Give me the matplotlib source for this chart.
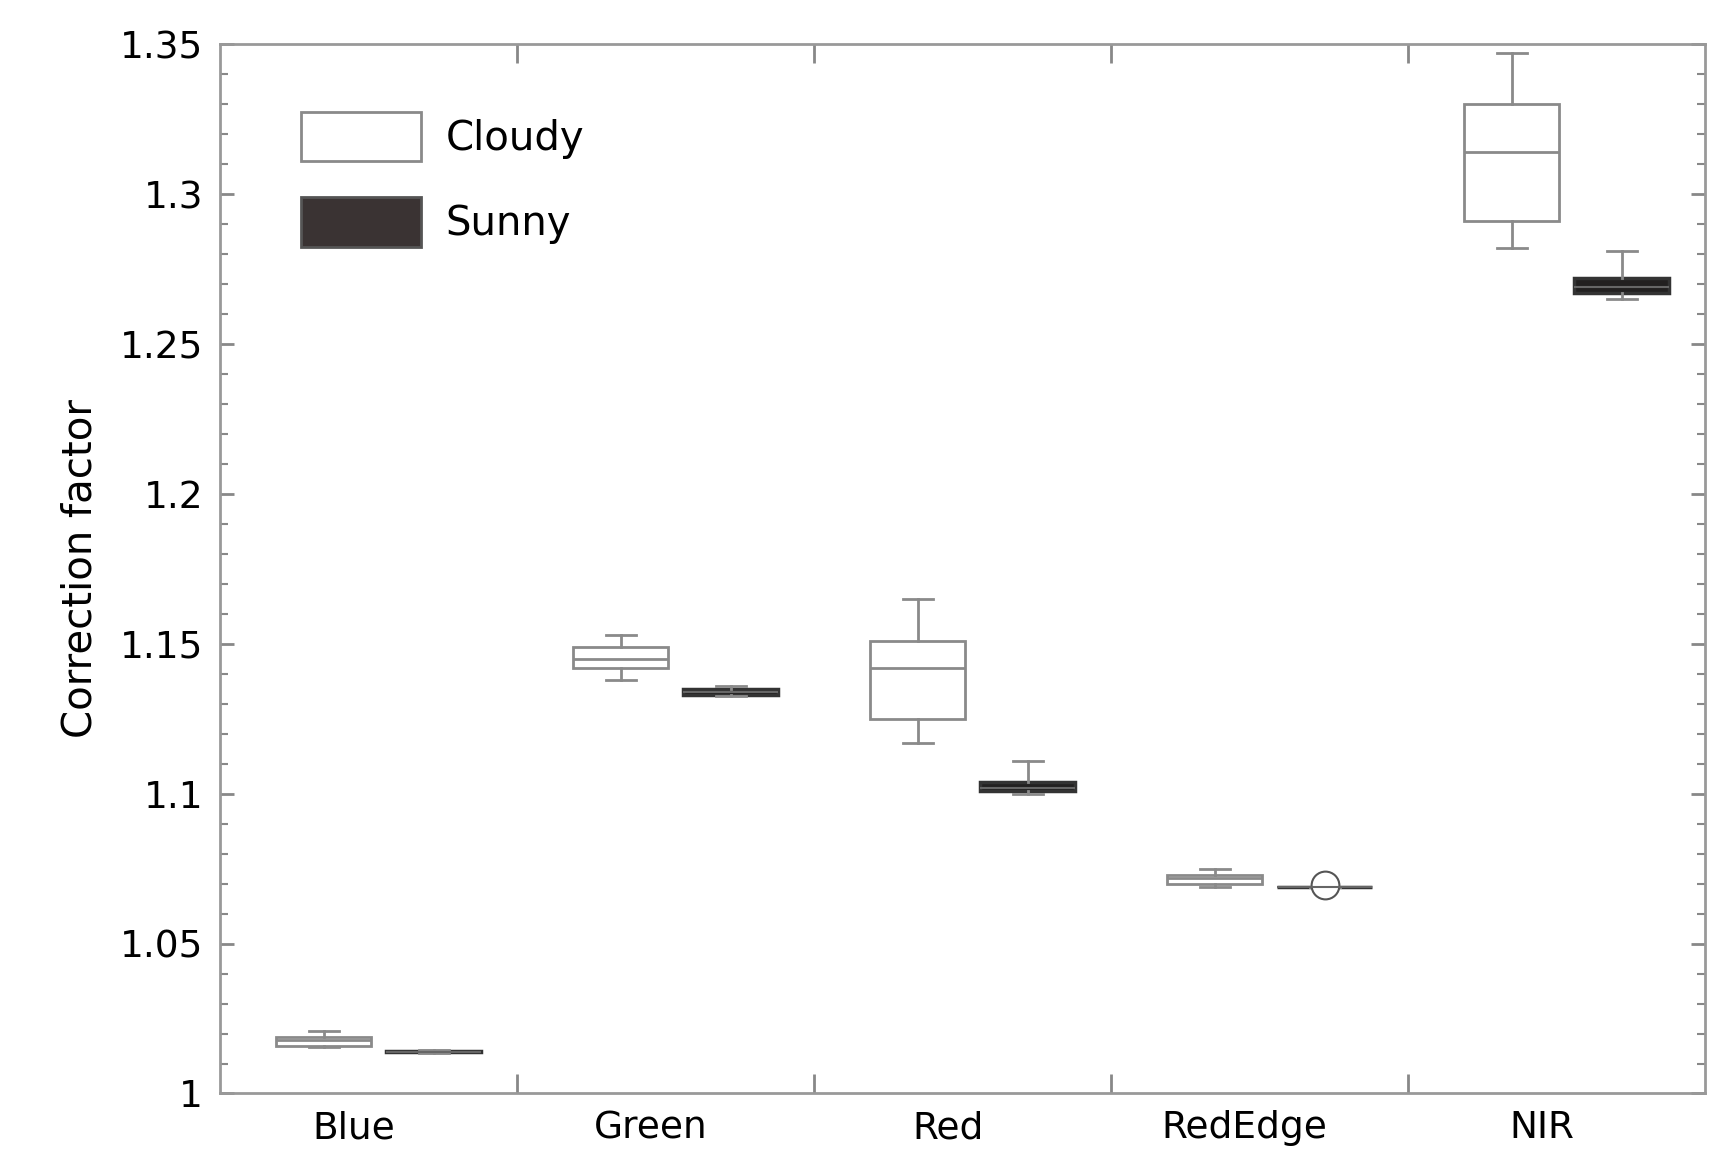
import matplotlib.pyplot as plt
from matplotlib.patches import Patch
from matplotlib.ticker import MultipleLocator

bands = ['Blue', 'Green', 'Red', 'RedEdge', 'NIR']
# whislo, q1, med, q3, whishi
cloudy = [[1.0155, 1.016, 1.018, 1.019, 1.021],
          [1.138, 1.142, 1.145, 1.149, 1.153],
          [1.117, 1.125, 1.142, 1.151, 1.165],
          [1.069, 1.070, 1.072, 1.073, 1.075],
          [1.282, 1.291, 1.314, 1.330, 1.347]]
sunny = [[1.0135, 1.0138, 1.014, 1.0142, 1.0145],
         [1.1325, 1.133, 1.134, 1.135, 1.136],
         [1.100, 1.101, 1.102, 1.104, 1.111],
         [1.069, 1.069, 1.069, 1.069, 1.069],
         [1.265, 1.267, 1.269, 1.272, 1.281]]
sunny_fliers = [[], [], [], [1.0695], []]

def to_stats(rows, fliers=None):
    out = []
    for i, r in enumerate(rows):
        out.append(dict(whislo=r[0], q1=r[1], med=r[2], q3=r[3], whishi=r[4],
                        fliers=fliers[i] if fliers else []))
    return out

fig, ax = plt.subplots(figsize=(17.31, 11.67), dpi=100)
fig.subplots_adjust(left=0.127, right=0.985, top=0.962, bottom=0.063)

edge = '#8a8a8a'
cpos = [i + 0.35 for i in range(5)]
spos = [i + 0.72 for i in range(5)]
ax.bxp(to_stats(cloudy), positions=cpos, widths=0.32, patch_artist=True,
       boxprops=dict(facecolor='white', edgecolor=edge, linewidth=2),
       medianprops=dict(color=edge, linewidth=2),
       whiskerprops=dict(color=edge, linewidth=2),
       capprops=dict(color=edge, linewidth=2), capwidths=0.1)
ax.bxp(to_stats(sunny, sunny_fliers), positions=spos, widths=0.32, patch_artist=True,
       boxprops=dict(facecolor='#222020', edgecolor='#333333', linewidth=2.5),
       medianprops=dict(color='#666666', linewidth=1.5),
       whiskerprops=dict(color=edge, linewidth=2),
       capprops=dict(color=edge, linewidth=2), capwidths=0.1,
       flierprops=dict(marker='o', markersize=20, markerfacecolor='white',
                       markeredgecolor='#555555', markeredgewidth=1.5))

ax.set_xlim(0, 5)
ax.set_ylim(1.0, 1.35)
ax.set_xticks([1, 2, 3, 4])
ax.set_xticklabels([])
ax.set_xticks([i + 0.45 for i in range(5)], minor=True)
ax.set_xticklabels(bands, minor=True, fontsize=27)
ax.tick_params(axis='x', which='minor', length=0, pad=12)
ax.tick_params(axis='x', which='major', direction='in', length=14, width=2,
               color='#888888', top=True)
ax.set_yticks([1.0, 1.05, 1.1, 1.15, 1.2, 1.25, 1.3, 1.35])
ax.set_yticklabels(['1', '1.05', '1.1', '1.15', '1.2', '1.25', '1.3', '1.35'], fontsize=27)
ax.yaxis.set_minor_locator(MultipleLocator(0.01))
ax.tick_params(axis='y', which='both', direction='in', right=True, color='#888888')
ax.tick_params(axis='y', which='major', length=10, width=2, pad=12)
ax.tick_params(axis='y', which='minor', length=6, width=1.5)
for s in ax.spines.values():
    s.set_color('#999999')
    s.set_linewidth(2)
ax.set_ylabel('Correction factor', fontsize=29, labelpad=14)

handles = [Patch(facecolor='white', edgecolor=edge, linewidth=2, label='Cloudy'),
           Patch(facecolor='#3a3333', edgecolor='#555555', linewidth=2, label='Sunny')]
ax.legend(handles=handles, loc='upper left', fontsize=29, frameon=False,
          handlelength=3.0, handleheight=1.5, labelspacing=0.9, handletextpad=0.6,
          bbox_to_anchor=(0.03, 0.97))

fig.savefig('out.png', dpi=100)
